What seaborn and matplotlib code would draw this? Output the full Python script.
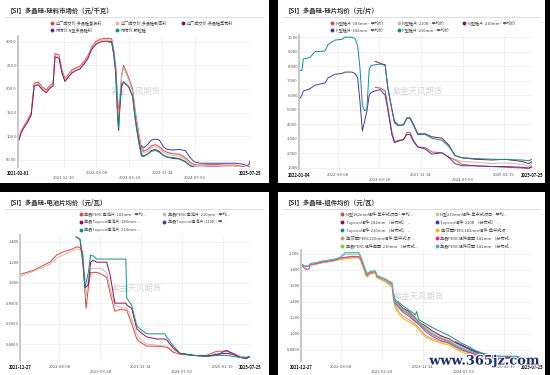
import pandas as pd
import matplotlib.pyplot as plt
import matplotlib.patheffects as pe
from matplotlib.patches import Rectangle
import seaborn as sns

sns.set_theme(style="white")
plt.rcParams['font.family'] = ['Noto Sans CJK SC', 'DejaVu Sans']

RED = "#e2433f"
TAN = "#cdbba9"
PLUM = "#8c0f57"
INDIGO = "#4b35a6"
TEAL = "#158a8e"
ORANGE = "#ffb300"
OLIVE = "#b5a46b"
PINK = "#f21f9c"
GREEN = "#64d43a"
SKY = "#5ba3e6"

"""
Panel 1 : 硅料市场价
"""

p1_dates = ["2021-02-01", "2021-02-24", "2021-03-15", "2021-04-10", "2021-05-05", "2021-05-26",
            "2021-06-23", "2021-07-20", "2021-08-18", "2021-09-15", "2021-10-06", "2021-10-20",
            "2021-11-17", "2021-12-08", "2021-12-29", "2022-01-19", "2022-02-16", "2022-03-16",
            "2022-04-13", "2022-05-11", "2022-06-08", "2022-07-06", "2022-08-03", "2022-08-31",
            "2022-09-28", "2022-10-26", "2022-11-23", "2022-12-07", "2022-12-21", "2023-01-04",
            "2023-01-11", "2023-01-18", "2023-02-01", "2023-02-15", "2023-03-01", "2023-03-22",
            "2023-04-19", "2023-05-10", "2023-05-31", "2023-06-21", "2023-07-05", "2023-08-02",
            "2023-08-30", "2023-09-27", "2023-10-25", "2023-11-22", "2023-12-20", "2024-01-31",
            "2024-03-13", "2024-04-24", "2024-05-29", "2024-06-26", "2024-08-07", "2024-10-02",
            "2024-12-04", "2025-02-12", "2025-04-09", "2025-06-04", "2025-07-02", "2025-07-25"]
p1_futou = [89, 112, 122, 135, 150, 212, 215, 205, 198, 208, 212, 275, 272, 240, 222, 230, 240, 245,
            248, 258, 270, 290, 300, 305, 307, 307, 306, 285, 250, 180, 150, 170, 230, 250, 240, 225,
            200, 150, 110, 75, 68, 72, 80, 82, 78, 70, 66, 63, 62, 55, 45, 40, 39, 40, 40, 39, 39, 36, 34, 37]
p1_zhimi = [87, 110, 120, 132, 147, 209, 212, 202, 195, 205, 209, 271, 268, 236, 219, 227, 237, 242,
            245, 255, 267, 287, 297, 302, 304, 304, 303, 280, 245, 170, 140, 165, 225, 245, 235, 220,
            195, 145, 105, 70, 64, 68, 76, 78, 74, 66, 62, 59, 58, 51, 42, 38, 37, 38, 38, 37, 37, 34, 32, 35]
p1_caihua = [86, 108, 118, 130, 145, 206, 209, 199, 192, 202, 206, 268, 265, 233, 216, 224, 234, 239,
             242, 252, 264, 284, 294, 299, 301, 301, 300, 275, 235, 140, 112, 150, 205, 215, 210, 205,
             185, 135, 95, 62, 58, 62, 70, 72, 68, 60, 56, 53, 52, 46, 38, 35, 34, 35, 35, 34, 34, 32, 30, 33]
p1_keli_dates = ["2022-10-26", "2022-11-23", "2022-12-07", "2022-12-21", "2023-01-04", "2023-01-11",
                 "2023-01-18", "2023-02-01", "2023-02-15", "2023-03-01", "2023-03-22", "2023-04-19",
                 "2023-05-10", "2023-05-31", "2023-06-21", "2023-07-05", "2023-08-02", "2023-08-30",
                 "2023-09-27", "2023-10-25", "2023-11-22", "2023-12-20", "2024-01-31", "2024-03-13",
                 "2024-04-24", "2024-05-29", "2024-06-26", "2024-08-07", "2024-10-02", "2024-12-04",
                 "2025-02-12", "2025-04-09", "2025-06-04", "2025-07-02", "2025-07-25"]
p1_keli = [300, 298, 275, 240, 150, 118, 160, 210, 215, 212, 205, 185, 130, 90, 58, 57, 62, 68,
           70, 66, 60, 56, 55, 53, 47, 38, 34, 33, 34, 34, 34, 34, 32, 31, 34]
p1_ntype_dates = ["2023-06-21", "2023-07-05", "2023-08-02", "2023-08-30", "2023-09-27", "2023-10-25",
                  "2023-11-22", "2023-12-20", "2024-01-31", "2024-03-13", "2024-04-24", "2024-05-29",
                  "2024-06-26", "2024-08-07", "2024-10-02", "2024-12-04", "2025-02-12", "2025-04-09",
                  "2025-06-04", "2025-07-02", "2025-07-18", "2025-07-25"]
p1_ntype = [80, 75, 82, 92, 94, 92, 78, 72, 71, 72, 70, 55, 46, 43, 43, 43, 43, 43, 41, 38, 40, 48]

"""
Panel 2 : 硅片均价
"""

p2_dates = ["2022-01-04", "2022-01-20", "2022-01-28", "2022-03-06", "2022-04-03", "2022-05-29",
            "2022-06-15", "2022-07-24", "2022-08-30", "2022-09-18", "2022-10-25", "2022-11-12",
            "2022-11-27", "2022-12-10", "2022-12-23", "2023-01-04", "2023-01-17", "2023-01-30",
            "2023-02-10", "2023-03-04", "2023-04-01", "2023-04-29", "2023-05-14", "2023-06-05",
            "2023-06-20", "2023-07-12", "2023-08-09", "2023-08-28", "2023-09-15", "2023-10-04",
            "2023-10-28", "2023-12-08", "2024-01-14", "2024-03-10", "2024-04-16", "2024-05-23",
            "2024-06-30", "2024-09-12", "2024-12-14", "2025-02-26", "2025-05-30", "2025-07-07",
            "2025-07-25"]
p2_p210 = [7.70, 7.70, 8.50, 8.60, 9.00, 9.05, 9.50, 9.80, 9.85, 10.0, 10.0, 9.90, 9.40, 7.80, 5.30,
           4.95, 5.00, 7.80, 8.05, 8.10, 8.15, 8.05, 6.50, 5.00, 4.10, 3.90, 4.00, 4.40, 4.40, 3.90,
           3.30, 3.30, 3.05, 2.90, 2.50, 1.85, 1.70, 1.65, 1.60, 1.58, 1.55, 1.50, 1.60]
p2_p182 = [5.70, 6.00, 6.30, 6.45, 6.70, 6.85, 7.20, 7.45, 7.50, 7.60, 7.60, 7.50, 7.20, 5.50, 3.55,
           4.20, 4.90, 6.00, 6.20, 6.30, 6.40, 6.00, 5.00, 3.30, 2.75, 2.85, 2.95, 3.30, 3.30, 2.80,
           2.45, 2.30, 1.95, 2.05, 1.75, 1.30, 1.15, 1.15, 1.10, 1.10, 1.05, 1.00, 1.05]
p2_n_dates = ["2023-03-04", "2023-04-01", "2023-04-29", "2023-05-14", "2023-06-05", "2023-06-20",
              "2023-07-12", "2023-08-09", "2023-08-28", "2023-09-15", "2023-10-04", "2023-10-28",
              "2023-12-08", "2024-01-14", "2024-03-10", "2024-04-16", "2024-05-23", "2024-06-30",
              "2024-09-12", "2024-12-14", "2025-02-26", "2025-05-30", "2025-07-07", "2025-07-25"]
p2_n183 = [6.55, 6.50, 6.30, 5.20, 3.50, 2.80, 2.90, 2.95, 3.45, 3.45, 2.90, 2.45, 2.40, 2.10, 2.05,
           1.75, 1.55, 1.25, 1.15, 1.10, 1.05, 1.00, 0.95, 1.15]
p2_n210 = [8.35, 8.20, 8.10, 6.50, 5.10, 4.20, 3.95, 3.95, 4.45, 4.45, 4.00, 3.35, 3.35, 3.15, 3.05,
           2.60, 1.85, 1.70, 1.60, 1.55, 1.60, 1.45, 1.30, 1.45]
p2_r_dates = ["2024-05-23", "2024-06-30", "2024-09-12", "2024-12-14", "2025-02-26", "2025-05-30",
              "2025-07-07", "2025-07-25"]
p2_n210r = [1.60, 1.45, 1.40, 1.30, 1.35, 1.25, 1.10, 1.35]

"""
Panel 3 : 电池片均价
"""

p3_dates = ["2021-12-27", "2022-03-13", "2022-05-09", "2022-06-15", "2022-07-23", "2022-08-30",
            "2022-10-07", "2022-11-14", "2022-12-03", "2022-12-18", "2022-12-31", "2023-01-06",
            "2023-01-19", "2023-02-01", "2023-02-16", "2023-03-07", "2023-03-26", "2023-05-03",
            "2023-05-22", "2023-06-19", "2023-07-18", "2023-08-25", "2023-09-22", "2023-10-21",
            "2023-11-08", "2023-12-16", "2024-02-11", "2024-04-08", "2024-05-16", "2024-06-23",
            "2024-09-06", "2024-11-21", "2025-01-17", "2025-03-15", "2025-04-22", "2025-05-29",
            "2025-07-06", "2025-07-25"]
p3_perc182 = [1.08, 1.12, 1.17, 1.20, 1.27, 1.30, 1.32, 1.35, 1.34, 1.30, 0.90, 0.75, 0.95, 1.10,
              1.10, 1.10, 1.09, 1.05, 0.90, 0.72, 0.74, 0.73, 0.60, 0.45, 0.42, 0.38, 0.38, 0.37,
              0.32, 0.30, 0.29, 0.29, 0.33, 0.33, 0.31, 0.28, 0.27, 0.28]
p3_perc210 = [1.06, 1.11, 1.15, 1.18, 1.24, 1.27, 1.30, 1.33, 1.32, 1.28, 1.05, 0.85, 1.05, 1.13,
              1.14, 1.14, 1.14, 1.10, 0.95, 0.78, 0.76, 0.75, 0.65, 0.50, 0.45, 0.40, 0.39, 0.38,
              0.34, 0.31, 0.29, 0.28, 0.31, 0.31, 0.30, 0.28, 0.27, 0.27]
p3_top_dates = ["2022-11-10", "2022-12-03", "2022-12-18", "2022-12-31", "2023-01-06", "2023-01-19",
                "2023-02-01", "2023-02-16", "2023-03-07", "2023-03-26", "2023-05-03", "2023-05-22",
                "2023-06-19", "2023-07-18", "2023-08-20", "2023-08-25", "2023-09-22", "2023-10-21",
                "2023-11-08", "2023-12-16", "2024-02-11", "2024-03-28", "2024-04-08", "2024-05-16",
                "2024-06-23", "2024-09-06", "2024-11-21", "2025-01-17", "2025-03-15", "2025-04-22",
                "2025-05-29", "2025-07-06", "2025-07-25"]
p3_top183 = [1.45, 1.42, 1.20, 0.95, 0.96, 0.98, 1.20, 1.22, 1.20, 1.20, 1.20, 1.08, 0.80, 0.80,
             0.80, 0.78, 0.75, 0.55, 0.52, 0.47, 0.45, 0.45, 0.44, 0.36, 0.31, 0.29, 0.28, 0.30,
             0.31, 0.30, 0.27, 0.26, 0.28]
p3_top210 = [1.45, 1.42, 1.25, 0.95, 1.00, 1.10, 1.27, 1.26, 1.23, 1.23, 1.23, 1.23, 1.23, 1.23,
             1.23, 0.85, 0.78, 0.58, 0.55, 0.50, 0.50, 0.50, 0.47, 0.38, 0.31, 0.29, 0.28, 0.29,
             0.29, 0.28, 0.27, 0.27, 0.28]
p3_r_dates = ["2024-06-23", "2024-09-06", "2024-11-21", "2025-01-17", "2025-03-01", "2025-03-15",
              "2025-04-22", "2025-05-29", "2025-07-06", "2025-07-25"]
p3_top210r = [0.31, 0.29, 0.285, 0.29, 0.33, 0.34, 0.30, 0.27, 0.26, 0.28]

"""
Panel 4 : 组件均价
"""

p4_perc_dates = ["2021-12-27", "2022-01-20", "2022-02-10", "2022-02-18", "2022-03-20", "2022-04-25",
                 "2022-05-25", "2022-06-20", "2022-07-15", "2022-08-06", "2022-09-04", "2022-10-10",
                 "2022-11-18", "2022-11-28", "2022-12-11", "2022-12-26", "2023-01-04", "2023-01-23",
                 "2023-02-20", "2023-03-02", "2023-04-18", "2023-05-26", "2023-06-04", "2023-06-13",
                 "2023-07-02", "2023-07-21", "2023-08-28", "2023-10-05", "2023-10-23", "2023-11-30",
                 "2024-01-07", "2024-03-03", "2024-04-10", "2024-05-18", "2024-06-24", "2024-08-01",
                 "2024-09-08", "2024-10-16"]
p4_perc_s182 = [1.87, 1.81, 1.81, 1.87, 1.88, 1.90, 1.91, 1.92, 1.93, 1.95, 1.96, 1.97, 1.97, 1.95,
                1.88, 1.79, 1.74, 1.77, 1.78, 1.72, 1.68, 1.62, 1.45, 1.38, 1.33, 1.28, 1.22, 1.15,
                1.12, 1.03, 0.97, 0.91, 0.89, 0.84, 0.80, 0.77, 0.75, 0.73]
p4_perc_s210 = [1.88, 1.85, 1.86, 1.88, 1.89, 1.91, 1.92, 1.93, 1.94, 1.96, 2.00, 2.00, 2.00, 1.97,
                1.90, 1.80, 1.76, 1.78, 1.79, 1.73, 1.69, 1.64, 1.48, 1.40, 1.37, 1.32, 1.26, 1.19,
                1.16, 1.07, 1.00, 0.94, 0.91, 0.86, 0.82, 0.79, 0.76, 0.74]
p4_perc_d182 = [1.88, 1.84, 1.85, 1.88, 1.89, 1.91, 1.92, 1.93, 1.94, 1.96, 2.02, 2.02, 2.02, 1.98,
                1.90, 1.80, 1.75, 1.78, 1.79, 1.73, 1.68, 1.63, 1.47, 1.39, 1.35, 1.30, 1.24, 1.17,
                1.14, 1.05, 0.99, 0.93, 0.90, 0.85, 0.81, 0.78, 0.76, 0.74]
p4_perc_j182 = [1.86, 1.84, 1.85, 1.86, 1.87, 1.89, 1.90, 1.91, 1.92, 1.93, 1.94, 1.95, 1.95, 1.92,
                1.85, 1.74, 1.71, 1.75, 1.76, 1.70, 1.65, 1.58, 1.40, 1.32, 1.25, 1.20, 1.15, 1.10,
                1.05, 0.96, 0.92, 0.88, 0.86, 0.81, 0.77, 0.74, 0.72, 0.70]
p4_perc_j210 = [1.86, 1.84, 1.85, 1.86, 1.87, 1.89, 1.90, 1.91, 1.92, 1.94, 1.95, 1.96, 1.96, 1.93,
                1.86, 1.76, 1.72, 1.76, 1.77, 1.71, 1.66, 1.60, 1.42, 1.35, 1.28, 1.23, 1.18, 1.12,
                1.08, 0.98, 0.94, 0.90, 0.88, 0.83, 0.79, 0.76, 0.73, 0.71]
p4_top_dates = ["2023-06-04", "2023-06-13", "2023-07-02", "2023-07-21", "2023-08-28", "2023-10-05",
                "2023-10-12", "2023-10-23", "2023-11-30", "2024-01-07", "2024-03-03", "2024-04-10",
                "2024-05-18", "2024-06-24", "2024-08-01", "2024-09-08", "2024-10-16", "2024-12-10",
                "2025-02-06", "2025-04-22", "2025-06-10", "2025-07-25"]
p4_top210 = [1.50, 1.42, 1.40, 1.36, 1.30, 1.24, 1.28, 1.18, 1.13, 1.08, 1.02, 0.98, 0.93, 0.88,
             0.84, 0.79, 0.76, 0.73, 0.72, 0.72, 0.70, 0.70]
p4_top182 = [1.48, 1.40, 1.38, 1.33, 1.28, 1.20, 1.18, 1.15, 1.10, 1.04, 0.97, 0.94, 0.89, 0.85,
             0.81, 0.77, 0.74, 0.71, 0.70, 0.70, 0.68, 0.68]
p4_n182 = [1.45, 1.38, 1.35, 1.30, 1.25, 1.16, 1.15, 1.12, 1.06, 1.00, 0.94, 0.91, 0.86, 0.82,
           0.78, 0.74, 0.72, 0.69, 0.69, 0.70, 0.68, 0.68]
p4_n210 = [1.47, 1.39, 1.36, 1.31, 1.26, 1.18, 1.16, 1.13, 1.08, 1.02, 0.96, 0.92, 0.87, 0.83,
           0.79, 0.75, 0.73, 0.70, 0.70, 0.71, 0.69, 0.69]
p4_r_dates = ["2024-05-18", "2024-06-24", "2024-08-01", "2024-09-08", "2024-10-16", "2024-12-10",
              "2025-02-06", "2025-04-22", "2025-06-10", "2025-07-25"]
p4_top210r = [0.90, 0.86, 0.82, 0.78, 0.75, 0.72, 0.71, 0.71, 0.69, 0.69]

"""
Labels
"""

p1_title = "【SI】多晶硅-硅料市场价（元/千克）"
p2_title = "【SI】多晶硅-硅片均价（元/片）"
p3_title = "【SI】多晶硅-电池片均价（元/瓦）"
p4_title = "【SI】多晶硅-组件均价（元/瓦）"

p1_names = ["出厂成交价:多晶硅复投料", "出厂成交价:多晶硅致密料", "出厂成交价:多晶硅菜花料",
            "市场价:N型多晶硅料", "市场价:颗粒硅"]
p2_names = ["N型硅片-183mm - 平均价", "N型硅片-210R - 平均价", "N型硅片-210mm - 平均价",
            "P型硅片-182mm - 平均价", "P型硅片-210mm - 平均价"]
p3_names = ["单晶PERC电池片-182mm - 平均...", "单晶PERC电池片-210mm - 平均...",
            "单晶Topcon电池片-183mm - ...", "单晶Topcon电池片-210R - 平...",
            "单晶Topcon电池片-210mm - ..."]
p4_names = ["N型182mm组件-集中式项目 - 平均...", "N型210mm组件-集中式项目 - 平均...",
            "Topcon组件-182mm （分布式） ...", "Topcon组件-210R （分布式） -...",
            "Topcon组件-210mm （分布式） ...", "单/双面PERC182mm组件-集中式项...",
            "单/双面PERC210mm组件-集中式项...", "单晶PERC组件单面-182mm （分布式...",
            "单晶PERC组件单面-210mm （分布式...", "单晶PERC组件双面-182mm （分布式..."]

p1_xticks = ["2021-02-01", "2021-12-20", "2022-08-08", "2023-03-28", "2023-11-14", "2024-07-03", "2025-07-25"]
p2_xticks = ["2022-01-04", "2022-08-08", "2023-03-28", "2023-11-14", "2024-07-03", "2025-02-19", "2025-07-25"]
p34_xticks = ["2021-12-27", "2022-08-08", "2023-03-28", "2023-11-14", "2024-07-03", "2025-02-19", "2025-07-25"]
p1_rows = [0, 1, 0, 1, 0, 1, 0]
p2_rows = [0, 0, 1, 0, 1, 0, 0]
p34_rows = [0, 0, 1, 0, 1, 0, 0]

p1_yticks = [50, 100, 150, 200, 250, 300]
p1_ylabels = ["50.00", "100.0", "150.0", "200.0", "250.0", "300.0"]
p2_yticks = [1, 2, 3, 4, 5, 6, 7, 8, 9, 10]
p2_ylabels = ["1.000", "2.000", "3.000", "4.000", "5.000", "6.000", "7.000", "8.000", "9.000", "10.00"]
p3_yticks = [0.4, 0.6, 0.8, 1.0, 1.2, 1.4]
p3_ylabels = ["0.4000", "0.6000", "0.8000", "1.000", "1.200", "1.400"]
p4_yticks = [0.8, 1.0, 1.2, 1.4, 1.6, 1.8, 2.0]
p4_ylabels = ["0.8000", "1.000", "1.200", "1.400", "1.600", "1.800", "2.000"]


def long_df(parts):
    frames = []
    for name, dates, vals in parts:
        frames.append(pd.DataFrame({"date": pd.to_datetime(dates), "value": vals, "series": name}))
    return pd.concat(frames, ignore_index=True)


W, H = 550, 375
fig = plt.figure(figsize=(5.5, 3.75), dpi=100, facecolor="black")
bg = fig.add_axes([0, 0, 1, 1])
bg.set_xlim(0, W)
bg.set_ylim(H, 0)
bg.axis("off")


def draw_panel(card, box, title, names, colors, legend_x, legend_y, df, xticks, rows,
               yticks, ylabels, ylim):
    x0, y0, x1, y1 = card
    bg.add_patch(Rectangle((x0, y0), x1 - x0, y1 - y0, facecolor="white", edgecolor="none"))
    bg.text(x0 + 7, y0 + 10, title, fontsize=4.6, fontweight="bold", color="#333333", va="center")
    bg.plot([x0 + 5, x1 - 5], [y0 + 16.5, y0 + 16.5], color="#d8d8d8", lw=0.6)
    # legend
    ncol = len(legend_x)
    for i, (name, c) in enumerate(zip(names, colors)):
        lx = legend_x[i % ncol]
        ly = legend_y[i // ncol]
        bg.plot(lx, ly, "o", color=c, markersize=2.8, markeredgewidth=0)
        bg.text(lx + 3.5, ly, name, fontsize=3.0, color="#444444", va="center")
    l, t, r, b = box
    # watermark
    bg.text((l + r) / 2 + 2, t + (b - t) * 0.42, "紫金天风期货", fontsize=6, color="#d4d4d4",
            ha="center", va="center")
    ax = fig.add_axes([l / W, 1 - b / H, (r - l) / W, (b - t) / H])
    ax.set_facecolor("none")
    sns.lineplot(data=df, x="date", y="value", hue="series", hue_order=names,
                 palette=dict(zip(names, colors)), linewidth=0.7, legend=False, ax=ax)
    xt = pd.to_datetime(xticks)
    ax.set_xlim(xt[0], xt[-1])
    ax.set_ylim(*ylim)
    labels = [("\n" + s) if rw else s for s, rw in zip(xticks, rows)]
    ax.set_xticks(xt, labels)
    ax.set_yticks(yticks, ylabels)
    ax.set_xlabel("")
    ax.set_ylabel("")
    ax.tick_params(axis="both", length=0, labelsize=3, labelcolor="#555555")
    ax.tick_params(axis="x", pad=3.2)
    ax.tick_params(axis="y", pad=0.8)
    tl = ax.get_xticklabels()
    for lab in (tl[0], tl[-1]):
        lab.set_fontweight("bold")
        lab.set_color("#111111")
    ax.grid(True, color="#ececec", lw=0.5)
    for side in ["top", "right", "bottom"]:
        ax.spines[side].set_visible(False)
    ax.spines["left"].set_color("#c4c4c4")
    ax.spines["left"].set_linewidth(1.3)
    return ax


c5 = [RED, TAN, PLUM, INDIGO, TEAL]

df1 = long_df([(p1_names[0], p1_dates, p1_futou), (p1_names[1], p1_dates, p1_zhimi),
               (p1_names[2], p1_dates, p1_caihua), (p1_names[3], p1_ntype_dates, p1_ntype),
               (p1_names[4], p1_keli_dates, p1_keli)])
draw_panel((0, 0, 269, 183), (18, 36, 250, 167), p1_title, p1_names, c5,
           [52, 117, 183], [22.7, 30], df1, p1_xticks, p1_rows, p1_yticks, p1_ylabels, (35, 312))

df2 = long_df([(p2_names[0], p2_n_dates, p2_n183), (p2_names[1], p2_r_dates, p2_n210r),
               (p2_names[2], p2_n_dates, p2_n210), (p2_names[3], p2_dates, p2_p182),
               (p2_names[4], p2_dates, p2_p210)])
draw_panel((278, 0, 545, 183), (299, 35, 532, 169), p2_title, p2_names, c5,
           [332, 399, 464], [22.7, 30], df2, p2_xticks, p2_rows, p2_yticks, p2_ylabels, (0.93, 10.15))

df3 = long_df([(p3_names[0], p3_dates, p3_perc182), (p3_names[1], p3_dates, p3_perc210),
               (p3_names[2], p3_top_dates, p3_top183), (p3_names[3], p3_r_dates, p3_top210r),
               (p3_names[4], p3_top_dates, p3_top210)])
draw_panel((0, 192, 269, 375), (20, 235, 250, 361), p3_title, p3_names, c5,
           [81, 164], [214, 222, 230], df3, p34_xticks, p34_rows, p3_yticks, p3_ylabels, (0.235, 1.465))

c10 = [RED, TAN, PLUM, INDIGO, TEAL, ORANGE, OLIVE, PINK, GREEN, SKY]
df4 = long_df([(p4_names[0], p4_top_dates, p4_n182), (p4_names[1], p4_top_dates, p4_n210),
               (p4_names[2], p4_top_dates, p4_top182), (p4_names[3], p4_r_dates, p4_top210r),
               (p4_names[4], p4_top_dates, p4_top210), (p4_names[5], p4_perc_dates, p4_perc_j182),
               (p4_names[6], p4_perc_dates, p4_perc_j210), (p4_names[7], p4_perc_dates, p4_perc_s182),
               (p4_names[8], p4_perc_dates, p4_perc_s210), (p4_names[9], p4_perc_dates, p4_perc_d182)])
draw_panel((278, 192, 545, 375), (301, 250, 532, 361), p4_title, p4_names, c10,
           [342, 437], [214, 222, 230, 238, 246], df4, p34_xticks, p34_rows,
           p4_yticks, p4_ylabels, (0.66, 2.05))

fig.text(484 / W, 1 - 361 / H, "www.365jz.com", fontsize=9.3, fontweight="bold",
         family="DejaVu Serif", color="#1b2d6b", ha="center", va="center",
         path_effects=[pe.withStroke(linewidth=1.5, foreground="white")])

fig.savefig("out.png", dpi=100, facecolor=fig.get_facecolor())
